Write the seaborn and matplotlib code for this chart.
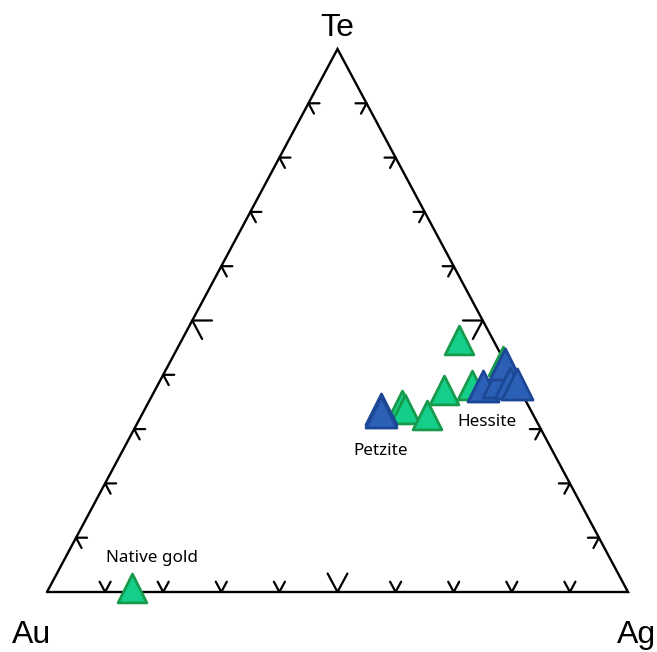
import numpy as np
import pandas as pd
import matplotlib
matplotlib.use("Agg")
import matplotlib.pyplot as plt
import seaborn as sns

# compositions as fractions (Au, Ag, Te)
au_green = [0.851, 0.058, 0.217, 0.215, 0.183, 0.131, 0.078, 0.003]
ag_green = [0.142, 0.477, 0.439, 0.448, 0.491, 0.497, 0.541, 0.572]
te_green = [0.007, 0.465, 0.344, 0.337, 0.326, 0.372, 0.381, 0.425]

au_blue = [0.257, 0.260, 0.060, 0.030, 0.002, 0.011, 0.000]
ag_blue = [0.406, 0.409, 0.561, 0.583, 0.578, 0.604, 0.617]
te_blue = [0.337, 0.331, 0.379, 0.387, 0.420, 0.385, 0.383]

vertex_labels = ["Au", "Ag", "Te"]
phase_labels = ["Native gold", "Petzite", "Hessite"]


def to_xy(au, ag, te):
    au, ag, te = np.asarray(au, float), np.asarray(ag, float), np.asarray(te, float)
    tot = au + ag + te
    ag, te = ag / tot, te / tot
    return ag + te / 2, te


df = pd.concat([
    pd.DataFrame({"au": au_green, "ag": ag_green, "te": te_green, "set": "green"}),
    pd.DataFrame({"au": au_blue, "ag": ag_blue, "te": te_blue, "set": "blue"}),
], ignore_index=True)
df["x"], df["y"] = to_xy(df["au"], df["ag"], df["te"])

sns.set_style("white")
fig = plt.figure(figsize=(6.57, 6.52), dpi=100)
ax = fig.add_axes([47 / 657, 60 / 652, 581 / 657, 543 / 652])
ax.set_xlim(0, 1)
ax.set_ylim(0, 1)
ax.axis("off")

# triangle frame
ax.plot([0, 1, 0.5, 0], [0, 0, 1, 0], color="black", lw=1.7, clip_on=False,
        solid_joinstyle="miter", zorder=1)

# chevron ticks every 10 %, bigger at 50 %
for k in range(1, 10):
    t = k / 10
    L = 0.034 if k == 5 else 0.019
    # bottom edge (Te = 0)
    px, py = t, 0
    ax.plot([px + L / 2, px, px - L / 2], [py + L, py, py + L], color="black", lw=1.6, clip_on=False)
    # left edge (Ag = 0)
    px, py = t / 2, t
    ax.plot([px + L, px, px + L / 2], [py, py, py - L], color="black", lw=1.6, clip_on=False)
    # right edge (Au = 0)
    px, py = 1 - t / 2, t
    ax.plot([px - L, px, px - L / 2], [py, py, py - L], color="black", lw=1.6, clip_on=False)

styles = {
    "green": dict(color="#14cf8a", edgecolor="#189a4c", s=430),
    "blue": dict(color="#2b60b6", edgecolor="#1c4795", s=500),
}
for name in ["green", "blue"]:
    sub = df[df["set"] == name]
    sns.scatterplot(data=sub, x="x", y="y", marker="^", linewidth=2.0,
                    ax=ax, clip_on=False, zorder=3, legend=False, **styles[name])

# vertex labels
vfont = dict(family="Liberation Sans", fontsize=23, color="black")
ax.annotate(vertex_labels[0], (0, 0), xytext=(-11, -31), textcoords="offset points",
            ha="center", va="center", **vfont)
ax.annotate(vertex_labels[1], (1, 0), xytext=(6, -31), textcoords="offset points",
            ha="center", va="center", **vfont)
ax.annotate(vertex_labels[2], (0.5, 1), xytext=(-0.5, 15), textcoords="offset points",
            ha="center", va="center", **vfont)

# phase labels
lfont = dict(family="Noto Sans", fontsize=12.3, color="black", ha="center", va="center")
gx, gy = df.loc[0, "x"], df.loc[0, "y"]
ax.annotate(phase_labels[0], (gx, gy), xytext=(15, 22), textcoords="offset points", **lfont)
px_, py_ = df.loc[8, "x"], df.loc[8, "y"]
ax.annotate(phase_labels[1], (px_, py_), xytext=(0, -30), textcoords="offset points", **lfont)
hx, hy = df.loc[10, "x"], df.loc[10, "y"]
ax.annotate(phase_labels[2], (hx, hy), xytext=(3, -26), textcoords="offset points", **lfont)

fig.savefig("out.png", dpi=100)
